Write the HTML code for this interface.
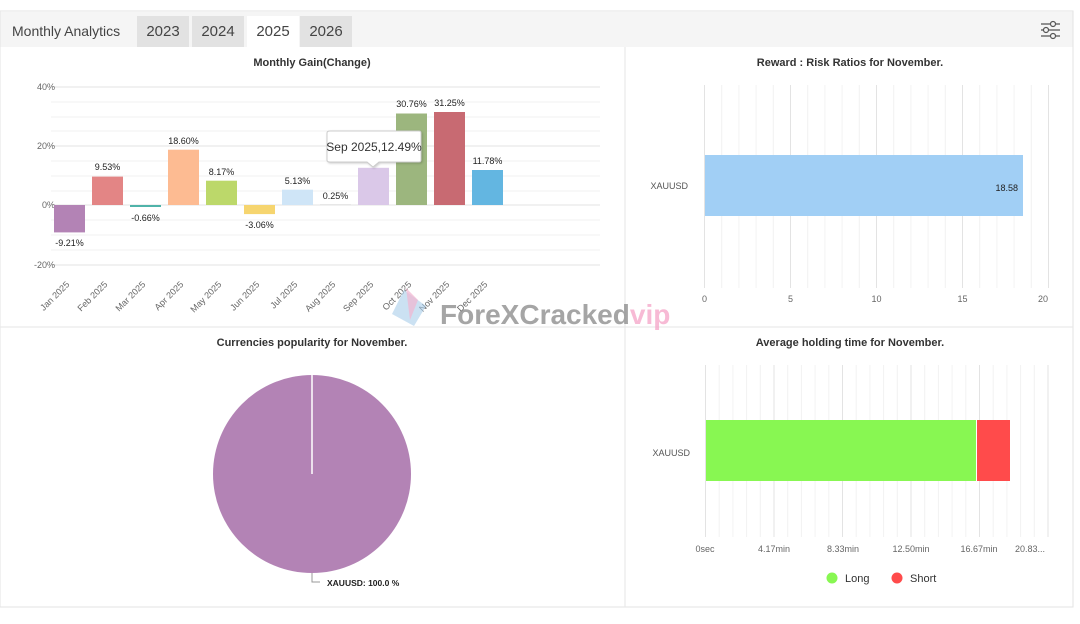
<!DOCTYPE html>
<html><head><meta charset="utf-8"><style>
html,body{margin:0;padding:0;background:#fff;width:1080px;height:624px;overflow:hidden}
svg{display:block;font-family:"Liberation Sans",Arial,sans-serif}
</style></head><body>
<svg width="1080" height="624" viewBox="0 0 1080 624" xmlns="http://www.w3.org/2000/svg">
<rect x="0" y="11" width="1073" height="596" fill="#fff" stroke="#e3e3e3"/>
<rect x="0.5" y="12" width="1072" height="35" fill="#f5f5f5"/>
<text x="12" y="36" font-size="14" fill="#444">Monthly Analytics</text>
<rect x="137" y="16" width="52" height="31" fill="#e2e2e2"/><text x="163" y="36" font-size="15" fill="#444" text-anchor="middle">2023</text>
<rect x="192" y="16" width="52" height="31" fill="#e2e2e2"/><text x="218" y="36" font-size="15" fill="#444" text-anchor="middle">2024</text>
<rect x="247" y="16" width="52" height="31" fill="#fff"/><text x="273" y="36" font-size="15" fill="#444" text-anchor="middle">2025</text>
<rect x="300" y="16" width="52" height="31" fill="#e2e2e2"/><text x="326" y="36" font-size="15" fill="#444" text-anchor="middle">2026</text>
<g stroke="#555" stroke-width="1.2" fill="#f5f5f5">
<line x1="1041" y1="24" x2="1060" y2="24"/><line x1="1041" y1="30" x2="1060" y2="30"/><line x1="1041" y1="36" x2="1060" y2="36"/>
<circle cx="1053" cy="24" r="2.5"/><circle cx="1046" cy="30" r="2.5"/><circle cx="1053" cy="36" r="2.5"/></g>
<line x1="625" y1="47" x2="625" y2="607" stroke="#e6e6e6"/>
<line x1="0" y1="327" x2="1073" y2="327" stroke="#e6e6e6"/>

<text x="312" y="66" font-size="11" font-weight="bold" fill="#333" text-anchor="middle">Monthly Gain(Change)</text>
<g stroke="#f2f2f2"><line x1="51" y1="102" x2="600" y2="102"/><line x1="51" y1="117" x2="600" y2="117"/><line x1="51" y1="131" x2="600" y2="131"/><line x1="51" y1="161" x2="600" y2="161"/><line x1="51" y1="176" x2="600" y2="176"/><line x1="51" y1="191" x2="600" y2="191"/><line x1="51" y1="220" x2="600" y2="220"/><line x1="51" y1="235" x2="600" y2="235"/><line x1="51" y1="250" x2="600" y2="250"/></g>
<g stroke="#e3e3e3"><line x1="51" y1="87" x2="600" y2="87"/><line x1="51" y1="146" x2="600" y2="146"/><line x1="51" y1="205" x2="600" y2="205"/><line x1="51" y1="265" x2="600" y2="265"/></g>
<g font-size="9" fill="#666" text-anchor="end"><text x="55" y="90">40%</text><text x="55" y="149">20%</text><text x="55" y="208">0%</text><text x="55" y="268">-20%</text></g>
<rect x="54" y="205" width="31" height="27.4" fill="#b383b5"/>
<rect x="92" y="176.6" width="31" height="28.4" fill="#e38585"/>
<rect x="130" y="205" width="31" height="2" fill="#4fb3a9"/>
<rect x="168" y="149.7" width="31" height="55.3" fill="#fdbb92"/>
<rect x="206" y="180.7" width="31" height="24.3" fill="#bcd86a"/>
<rect x="244" y="205" width="31" height="9.1" fill="#f6d56f"/>
<rect x="282" y="189.7" width="31" height="15.3" fill="#cfe5f7"/>
<rect x="320" y="204.3" width="31" height="0.7" fill="#ddd"/>
<rect x="358" y="167.8" width="31" height="37.2" fill="#dac8e8"/>
<rect x="396" y="113.5" width="31" height="91.5" fill="#9cb67e"/>
<rect x="434" y="112" width="31" height="93" fill="#c86a72"/>
<rect x="472" y="170" width="31" height="35" fill="#63b6e1"/>
<g font-size="9" fill="#222" text-anchor="middle">
<text x="69.5" y="246">-9.21%</text><text x="107.5" y="170">9.53%</text><text x="145.5" y="221">-0.66%</text>
<text x="183.5" y="144">18.60%</text><text x="221.5" y="175">8.17%</text><text x="259.5" y="228">-3.06%</text>
<text x="297.5" y="184">5.13%</text><text x="335.5" y="199">0.25%</text><text x="411.5" y="107">30.76%</text>
<text x="449.5" y="106">31.25%</text><text x="487.5" y="164">11.78%</text></g>
<g font-size="9" fill="#666" text-anchor="end">
<text transform="translate(70,285) rotate(-45)">Jan 2025</text><text transform="translate(108,285) rotate(-45)">Feb 2025</text>
<text transform="translate(146,285) rotate(-45)">Mar 2025</text><text transform="translate(184,285) rotate(-45)">Apr 2025</text>
<text transform="translate(222,285) rotate(-45)">May 2025</text><text transform="translate(260,285) rotate(-45)">Jun 2025</text>
<text transform="translate(298,285) rotate(-45)">Jul 2025</text><text transform="translate(336,285) rotate(-45)">Aug 2025</text>
<text transform="translate(374,285) rotate(-45)">Sep 2025</text><text transform="translate(412,285) rotate(-45)">Oct 2025</text>
<text transform="translate(450,285) rotate(-45)">Nov 2025</text><text transform="translate(488,285) rotate(-45)">Dec 2025</text></g>
<path d="M330 131 H419 Q421 131 421 133 V160 Q421 162 419 162 H379 L373 167 L367 162 H330 Q327 162 327 160 V133 Q327 131 330 131 Z" fill="#fff" stroke="#ccc" style="filter:drop-shadow(1px 1px 1px rgba(0,0,0,.2))"/>
<text x="374" y="151" font-size="12" fill="#333" text-anchor="middle">Sep 2025,12.49%</text>

<text x="850" y="66" font-size="11" font-weight="bold" fill="#333" text-anchor="middle">Reward : Risk Ratios for November.</text>
<g stroke="#f2f2f2">
<line x1="721.7" y1="85" x2="721.7" y2="288"/><line x1="738.9" y1="85" x2="738.9" y2="288"/><line x1="756.1" y1="85" x2="756.1" y2="288"/><line x1="773.3" y1="85" x2="773.3" y2="288"/>
<line x1="807.7" y1="85" x2="807.7" y2="288"/><line x1="824.9" y1="85" x2="824.9" y2="288"/><line x1="842.1" y1="85" x2="842.1" y2="288"/><line x1="859.3" y1="85" x2="859.3" y2="288"/>
<line x1="893.7" y1="85" x2="893.7" y2="288"/><line x1="910.9" y1="85" x2="910.9" y2="288"/><line x1="928.1" y1="85" x2="928.1" y2="288"/><line x1="945.3" y1="85" x2="945.3" y2="288"/>
<line x1="979.7" y1="85" x2="979.7" y2="288"/><line x1="996.9" y1="85" x2="996.9" y2="288"/><line x1="1014.1" y1="85" x2="1014.1" y2="288"/><line x1="1031.3" y1="85" x2="1031.3" y2="288"/></g>
<g stroke="#e3e3e3"><line x1="704.5" y1="85" x2="704.5" y2="288"/><line x1="790.5" y1="85" x2="790.5" y2="288"/><line x1="876.5" y1="85" x2="876.5" y2="288"/><line x1="962.5" y1="85" x2="962.5" y2="288"/><line x1="1048.5" y1="85" x2="1048.5" y2="288"/></g>
<rect x="705" y="155" width="318" height="61" fill="#a1cff5"/>
<text x="1018" y="191" font-size="9" fill="#222" text-anchor="end">18.58</text>
<text x="688" y="189" font-size="9" fill="#555" text-anchor="end">XAUUSD</text>
<g font-size="9" fill="#666" text-anchor="middle"><text x="704.5" y="302">0</text><text x="790.5" y="302">5</text><text x="876.5" y="302">10</text><text x="962.5" y="302">15</text><text x="1043" y="302">20</text></g>

<text x="312" y="346" font-size="11" font-weight="bold" fill="#333" text-anchor="middle">Currencies popularity for November.</text>
<circle cx="312" cy="474" r="99" fill="#b383b5"/>
<line x1="312" y1="375" x2="312" y2="474" stroke="#fff" stroke-width="1.5"/>
<polyline points="312,573 312,582 320,582" fill="none" stroke="#999"/>
<text x="327" y="586" font-size="8.5" font-weight="bold" fill="#222">XAUUSD: 100.0 %</text>

<text x="850" y="346" font-size="11" font-weight="bold" fill="#333" text-anchor="middle">Average holding time for November.</text>
<g stroke="#f2f2f2">
<line x1="719.2" y1="365" x2="719.2" y2="537"/><line x1="732.9" y1="365" x2="732.9" y2="537"/><line x1="746.6" y1="365" x2="746.6" y2="537"/><line x1="760.3" y1="365" x2="760.3" y2="537"/>
<line x1="787.7" y1="365" x2="787.7" y2="537"/><line x1="801.4" y1="365" x2="801.4" y2="537"/><line x1="815.1" y1="365" x2="815.1" y2="537"/><line x1="828.8" y1="365" x2="828.8" y2="537"/>
<line x1="856.2" y1="365" x2="856.2" y2="537"/><line x1="869.9" y1="365" x2="869.9" y2="537"/><line x1="883.6" y1="365" x2="883.6" y2="537"/><line x1="897.3" y1="365" x2="897.3" y2="537"/>
<line x1="924.7" y1="365" x2="924.7" y2="537"/><line x1="938.4" y1="365" x2="938.4" y2="537"/><line x1="952.1" y1="365" x2="952.1" y2="537"/><line x1="965.8" y1="365" x2="965.8" y2="537"/>
<line x1="993.2" y1="365" x2="993.2" y2="537"/><line x1="1006.9" y1="365" x2="1006.9" y2="537"/><line x1="1020.6" y1="365" x2="1020.6" y2="537"/><line x1="1034.3" y1="365" x2="1034.3" y2="537"/></g>
<g stroke="#e3e3e3"><line x1="705.5" y1="365" x2="705.5" y2="537"/><line x1="774" y1="365" x2="774" y2="537"/><line x1="842.5" y1="365" x2="842.5" y2="537"/><line x1="911" y1="365" x2="911" y2="537"/><line x1="979.5" y1="365" x2="979.5" y2="537"/><line x1="1048" y1="365" x2="1048" y2="537"/></g>
<rect x="706" y="420" width="270" height="61" fill="#88f752"/>
<rect x="977" y="420" width="33" height="61" fill="#ff4b4b"/>
<text x="690" y="456" font-size="9" fill="#555" text-anchor="end">XAUUSD</text>
<g font-size="9" fill="#666" text-anchor="middle"><text x="705" y="552">0sec</text><text x="774" y="552">4.17min</text><text x="843" y="552">8.33min</text><text x="911" y="552">12.50min</text><text x="979" y="552">16.67min</text><text x="1030" y="552">20.83...</text></g>
<circle cx="832" cy="578" r="5.5" fill="#88f752"/><text x="845" y="582" font-size="11" fill="#333">Long</text>
<circle cx="897" cy="578" r="5.5" fill="#ff4b4b"/><text x="910" y="582" font-size="11" fill="#333">Short</text>

<g opacity="0.85">
<path d="M404 290 L426 306 L414 326 L392 314 Z" fill="#a9cdea" opacity="0.7"/>
<path d="M406 288 L418 300 L410 320 Z" fill="#f0a7c8" opacity="0.7"/>
<text x="440" y="324" font-size="28" font-weight="bold" fill="#8a8a8a" opacity="0.9">ForeXCracked<tspan fill="#f6a6c8">vip</tspan></text>
</g>
</svg>
</body></html>
